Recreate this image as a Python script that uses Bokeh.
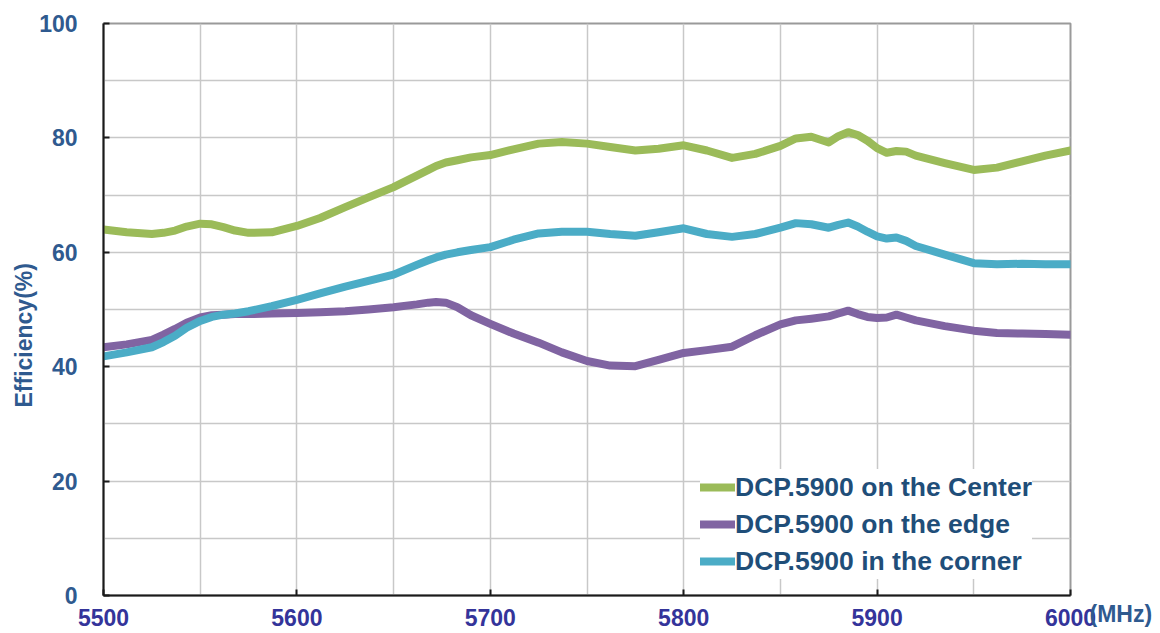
from bokeh.plotting import figure
from bokeh.models import (Range1d, FixedTicker, Legend, LegendItem, Title,
                          LinearAxis, ColumnDataSource)
from bokeh.embed import file_html
from bokeh.resources import INLINE

# ---- data ----
freq = [5500, 5512, 5525, 5531, 5537, 5543, 5550, 5556, 5562, 5568, 5575, 5587,
        5600, 5612, 5625, 5637, 5650, 5662, 5668, 5672, 5677, 5683, 5690, 5700,
        5712, 5725, 5737, 5750, 5762, 5775, 5787, 5800, 5812, 5825, 5837, 5850,
        5858, 5866, 5875, 5880, 5885, 5890, 5895, 5900, 5905, 5910, 5915, 5920,
        5935, 5950, 5962, 5975, 5987, 6000]

center = [64.0, 63.5, 63.2, 63.4, 63.8, 64.5, 65.0, 64.9, 64.4, 63.8, 63.4, 63.5,
          64.6, 66.0, 67.9, 69.6, 71.4, 73.4, 74.4, 75.1, 75.7, 76.1, 76.6, 77.0,
          78.0, 79.0, 79.3, 79.0, 78.4, 77.8, 78.1, 78.7, 77.8, 76.5, 77.2, 78.6,
          79.9, 80.2, 79.2, 80.3, 81.0, 80.5, 79.5, 78.2, 77.4, 77.7, 77.6, 76.9,
          75.6, 74.4, 74.8, 75.9, 76.9, 77.8]

edge = [43.4, 43.9, 44.7, 45.6, 46.6, 47.7, 48.6, 49.0, 49.1, 49.2, 49.2, 49.3,
        49.4, 49.5, 49.7, 50.0, 50.4, 50.9, 51.2, 51.3, 51.2, 50.4, 49.0, 47.5,
        45.8, 44.2, 42.5, 41.0, 40.2, 40.1, 41.2, 42.4, 42.9, 43.5, 45.5, 47.4,
        48.1, 48.4, 48.8, 49.3, 49.8, 49.2, 48.7, 48.5, 48.6, 49.1, 48.6, 48.1,
        47.1, 46.3, 45.9, 45.8, 45.7, 45.6]

corner = [41.8, 42.5, 43.4, 44.3, 45.4, 46.8, 48.0, 48.7, 49.1, 49.3, 49.7, 50.6,
          51.7, 52.8, 54.0, 55.0, 56.1, 57.8, 58.6, 59.1, 59.6, 60.0, 60.4, 60.9,
          62.2, 63.3, 63.6, 63.6, 63.2, 62.9, 63.5, 64.2, 63.2, 62.7, 63.2, 64.3,
          65.1, 64.9, 64.3, 64.8, 65.2, 64.5, 63.6, 62.8, 62.4, 62.6, 62.0, 61.1,
          59.6, 58.1, 57.9, 58.0, 57.9, 57.9]

series_names = ["DCP.5900 on the Center", "DCP.5900 on the edge", "DCP.5900 in the corner"]
series_colors = ["#9BBB59", "#8064A2", "#4BACC6"]

x_ticks = [5500, 5600, 5700, 5800, 5900, 6000]
y_ticks = [0, 20, 40, 60, 80, 100]
x_grid = [5500, 5550, 5600, 5650, 5700, 5750, 5800, 5850, 5900, 5950, 6000]
y_grid = [0, 10, 20, 30, 40, 50, 60, 70, 80, 90, 100]

y_title = "Efficiency(%)"
x_unit = "(MHz)"

FONT = "Liberation Sans"
BLUE = "#2F5A8F"
INDIGO = "#34349A"

p = figure(width=1160, height=633, output_backend="svg", toolbar_location=None,
           x_range=Range1d(5500, 6000), y_range=Range1d(0, 100),
           min_border_left=103, min_border_right=90, min_border_top=23,
           min_border_bottom=38)

p.outline_line_color = "#9a9a9a"
p.outline_line_width = 2

p.xgrid.ticker = FixedTicker(ticks=x_grid)
p.ygrid.ticker = FixedTicker(ticks=y_grid)
for g in (p.xgrid, p.ygrid):
    g.grid_line_color = "#c8c8c8"
    g.grid_line_width = 1.5

p.xaxis.ticker = FixedTicker(ticks=x_ticks)
p.yaxis.ticker = FixedTicker(ticks=y_ticks)
for ax in (p.xaxis, p.yaxis):
    ax.axis_line_color = "#1a1a1a"
    ax.axis_line_width = 2
    ax.major_tick_line_color = "#1a1a1a"
    ax.major_tick_line_width = 2
    ax.major_tick_in = 6
    ax.major_tick_out = 0
    ax.minor_tick_line_color = None
    ax.major_label_text_font = FONT
    ax.major_label_text_font_style = "bold"
    ax.major_label_text_font_size = "23px"
p.xaxis.major_label_text_color = INDIGO
p.yaxis.major_label_text_color = BLUE
p.xaxis.major_label_standoff = 13
p.yaxis.major_label_standoff = 26

# unit text "(MHz)" as a right-side axis label next to the last x tick label
unit_axis = LinearAxis(ticker=FixedTicker(ticks=[0]),
                       major_label_overrides={0: "\n\n" + x_unit},
                       axis_line_color=None, major_tick_line_color=None,
                       minor_tick_line_color=None, major_tick_out=0,
                       major_tick_in=0, major_label_standoff=19,
                       major_label_text_font=FONT,
                       major_label_text_font_style="bold",
                       major_label_text_font_size="23px",
                       major_label_text_color=BLUE)
p.add_layout(unit_axis, "right")

# y-axis title
p.add_layout(Title(text=y_title, align="left", offset=188, standoff=0,
                   text_font=FONT, text_font_style="bold",
                   text_font_size="23px", text_color=BLUE), "left")

src = ColumnDataSource(dict(freq=freq, center=center, edge=edge, corner=corner))
r_center = p.line("freq", "center", source=src, line_color=series_colors[0],
                  line_width=8, line_join="round", line_cap="round")
r_edge = p.line("freq", "edge", source=src, line_color=series_colors[1],
                line_width=8, line_join="round", line_cap="round")
r_corner = p.line("freq", "corner", source=src, line_color=series_colors[2],
                  line_width=8, line_join="round", line_cap="round")

legend = Legend(items=[LegendItem(label=series_names[0], renderers=[r_center]),
                       LegendItem(label=series_names[1], renderers=[r_edge]),
                       LegendItem(label=series_names[2], renderers=[r_corner])],
                location=(597, 16), padding=4, margin=0, spacing=1,
                glyph_width=35, glyph_height=36, label_height=36,
                label_standoff=0,
                label_text_font=FONT, label_text_font_style="bold",
                label_text_font_size="26.5px", label_text_color="#1F4E79",
                border_line_color=None, background_fill_color="white",
                background_fill_alpha=1.0)
p.add_layout(legend, "center")

open("out.html", "w").write(file_html(p, INLINE))
